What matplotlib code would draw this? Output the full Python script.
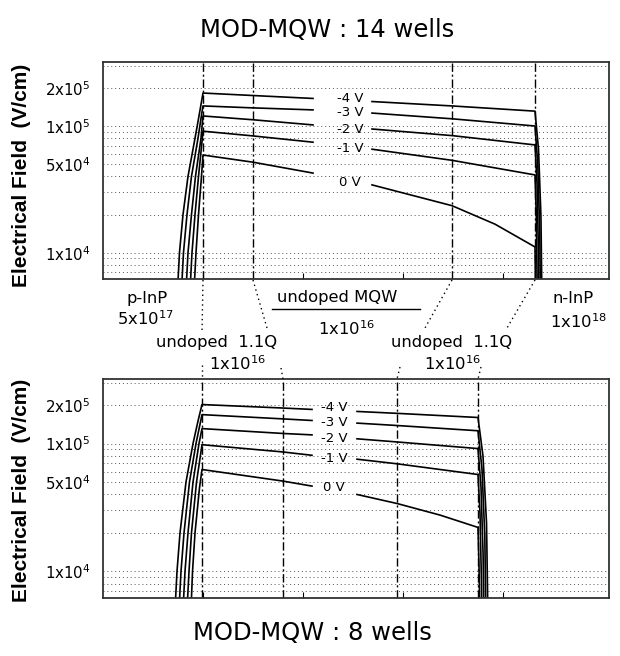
import numpy as np
import matplotlib.pyplot as plt
from matplotlib.lines import Line2D
from matplotlib.ticker import FixedLocator, LogLocator, NullFormatter

nan = np.nan
biases = ['-4 V', '-3 V', '-2 V', '-1 V', '0 V']

# MOD-MQW 14 wells : position (nm) / field (V/cm), one list per bias
top_x = [
    [93.1, 95.6, 100, 106.25, 115, 120, 125, 187.5, 262.5, nan, 336.25, 436.25, 540, 544.4, 547.4, 548.75],
    [98.1, 100.6, 105, 110.6, 118.75, 122.5, 125, 187.5, 262.5, nan, 336.25, 436.25, 540, 543.45, 545.9, 546.9],
    [103.75, 106.25, 110.6, 115.6, 122.5, 125, 187.5, 262.5, nan, 336.25, 436.25, 540, 542.5, 544.25, 545],
    [108.75, 111.25, 115, 119.4, 123.75, 125, 187.5, 262.5, nan, 336.25, 436.25, 540, 541.55, 542.6, 543.1],
    [113.75, 116.25, 119.4, 123.1, 125, 187.5, 262.5, nan, 336.25, 436.25, 490, 540, 540.6, 541.25],
]
top_e = [
    [5e3, 1e4, 2e4, 4e4, 8e4, 1.2e5, 1.82e5, 1.74e5, 1.65e5, nan, 1.56e5, 1.44e5, 1.31e5, 6.55e4, 1.97e4, 4e3],
    [5e3, 1e4, 2e4, 4e4, 8e4, 1.15e5, 1.44e5, 1.39e5, 1.34e5, nan, 1.265e5, 1.14e5, 1.0e5, 5.0e4, 1.5e4, 4e3],
    [5e3, 1e4, 2e4, 4e4, 8e4, 1.2e5, 1.12e5, 1.02e5, nan, 9.47e4, 8.4e4, 7.09e4, 3.55e4, 1.06e4, 4e3],
    [5e3, 1e4, 2e4, 4e4, 7.5e4, 9.1e4, 8.35e4, 7.45e4, nan, 6.56e4, 5.36e4, 4.11e4, 2.05e4, 6.2e3, 4e3],
    [5e3, 1e4, 2e4, 4e4, 5.9e4, 5.18e4, 4.25e4, nan, 3.43e4, 2.35e4, 1.68e4, 1.11e4, 5.5e3, 4e3],
]
top_layers = [125, 187.5, 436.25, 540]

# MOD-MQW 8 wells
bot_x = [
    [90, 92.5, 96.25, 103.75, 112.5, 118.75, 123.75, 225, 261.25, nan, 317.5, 367.5, 468.75, 475, 479.4, 481.25],
    [95, 97.5, 101.25, 108.1, 116.25, 123.75, 225, 261.25, nan, 317.5, 367.5, 468.75, 473.75, 477.25, 478.75],
    [100, 102.5, 106.25, 112.5, 120, 123.75, 225, 261.25, nan, 317.5, 367.5, 468.75, 472.5, 475.1, 476.25],
    [105, 107.5, 110.6, 116.9, 123.75, 225, 261.25, nan, 317.5, 367.5, 468.75, 471.25, 473, 473.75],
    [110, 111.9, 115, 120.6, 123.75, 225, 261.25, nan, 317.5, 367.5, 421.25, 468.75, 470, 471.25],
]
bot_e = [
    [5e3, 1e4, 2e4, 5e4, 1e5, 1.5e5, 2.02e5, 1.897e5, 1.85e5, nan, 1.784e5, 1.724e5, 1.6e5, 8.0e4, 2.4e4, 4e3],
    [5e3, 1e4, 2e4, 5e4, 1e5, 1.685e5, 1.56e5, 1.516e5, nan, 1.446e5, 1.385e5, 1.26e5, 6.3e4, 1.9e4, 4e3],
    [5e3, 1e4, 2e4, 5e4, 1e5, 1.31e5, 1.2e5, 1.17e5, nan, 1.09e5, 1.03e5, 9.14e4, 4.57e4, 1.37e4, 4e3],
    [5e3, 1e4, 2e4, 5e4, 9.8e4, 8.6e4, 8.1e4, nan, 7.55e4, 6.95e4, 5.73e4, 2.86e4, 8.6e3, 4e3],
    [5e3, 1e4, 2e4, 4.5e4, 6.27e4, 5.09e4, 4.65e4, nan, 4.0e4, 3.4e4, 2.76e4, 2.21e4, 1.1e4, 4e3],
]
bot_layers = [123.75, 225, 367.5, 468.75]

ytick_vals = [1e4, 5e4, 1e5, 2e5]
ytick_text = [r'$\mathregular{1x10^4}$', r'$\mathregular{5x10^4}$',
              r'$\mathregular{1x10^5}$', r'$\mathregular{2x10^5}$']


def fx(px):
    return px / 620


def fy(py):
    return 1 - py / 656


fig = plt.figure(figsize=(6.2, 6.56), dpi=100)
ax1 = fig.add_axes([fx(103), fy(279), 506 / 620, 217 / 656])
ax2 = fig.add_axes([fx(103), fy(598), 506 / 620, 219 / 656])

panels = [
    (ax1, top_x, top_e, top_layers, 309, [1.66e5, 1.27e5, 9.3e4, 6.6e4, 3.6e4]),
    (ax2, bot_x, bot_e, bot_layers, 289, [1.9e5, 1.45e5, 1.09e5, 7.6e4, 4.5e4]),
]

for ax, xs, es, layers, lab_x, lab_y in panels:
    ax.set_yscale('log')
    ax.set_xlim(0, 632.5)
    ax.set_ylim(6.2e3, 3.2e5)

    for x, e in zip(xs, es):
        ax.plot(x, e, color='k', lw=1.2)

    for xl in layers:
        ax.axvline(xl, color='k', lw=1.0, ls=(0, (6, 2, 1.5, 2)))

    for b, y in zip(biases, lab_y):
        ax.text(lab_x, y, b, ha='center', va='center', fontsize=9.5)

    ax.yaxis.set_major_locator(FixedLocator(ytick_vals))
    ax.set_yticklabels(ytick_text, fontsize=10.8)
    ax.yaxis.set_minor_locator(LogLocator(subs=np.arange(1, 10)))
    ax.yaxis.set_minor_formatter(NullFormatter())
    ax.tick_params(axis='y', which='both', length=0, pad=9)
    ax.grid(axis='y', which='both', color='#555', lw=0.7, ls=(0, (1, 3)))

    ax.set_xticks([125, 250, 375, 500])
    ax.set_xticklabels([])
    ax.tick_params(axis='x', direction='in', length=4)

    for s in ax.spines.values():
        s.set_color('#333')
        s.set_linewidth(1.3)

# titles and axis labels
fig.text(fx(327), fy(37), 'MOD-MQW : 14 wells', ha='center', va='baseline', fontsize=17.5)
fig.text(fx(312), fy(640), 'MOD-MQW : 8 wells', ha='center', va='baseline', fontsize=17.5)
for yc in [175, 490]:
    fig.text(fx(22), fy(yc), 'Electrical Field  (V/cm)', rotation=90, ha='center', va='center',
             fontsize=15, fontweight='bold', family=['Liberation Sans Narrow', 'Liberation Sans'])

# layer annotations between the panels
notes = [
    (147, 303, 'p-InP'),
    (145, 325, r'$\mathregular{5x10^{17}}$'),
    (337, 302, 'undoped MQW'),
    (346, 335, r'$\mathregular{1x10^{16}}$'),
    (217, 347, 'undoped  1.1Q'),
    (237, 370, r'$\mathregular{1x10^{16}}$'),
    (452, 347, 'undoped  1.1Q'),
    (452, 370, r'$\mathregular{1x10^{16}}$'),
    (573, 303, 'n-InP'),
    (578, 328, r'$\mathregular{1x10^{18}}$'),
]
for px, py, s in notes:
    fig.text(fx(px), fy(py), s, ha='center', va='baseline', fontsize=11.8)

fig.add_artist(Line2D([fx(272), fx(420)], [fy(309), fy(309)], color='k', lw=1))

leaders = [
    ((203, 280), (202, 333)),
    ((253, 280), (267, 328)),
    ((281, 368), (283, 379)),
    ((452, 280), (425, 328)),
    ((535, 280), (507, 328)),
    ((400, 367), (397, 379)),
    ((481, 367), (478, 379)),
    ((202, 365), (202, 379)),
]
for (x0, y0), (x1, y1) in leaders:
    fig.add_artist(Line2D([fx(x0), fx(x1)], [fy(y0), fy(y1)], color='k', lw=1, ls=(0, (1, 2.5))))

fig.savefig('out.png', dpi=100)
